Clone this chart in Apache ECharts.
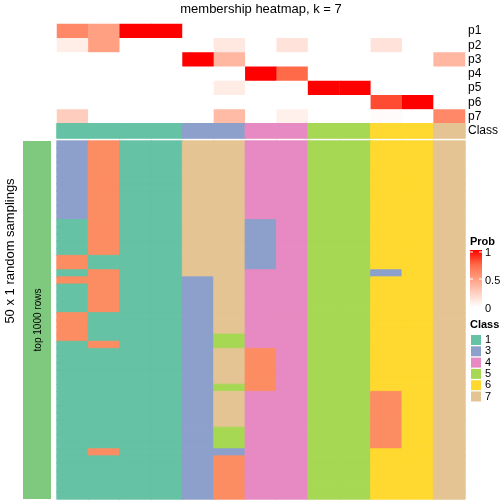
<!DOCTYPE html>
<html><head><meta charset="utf-8">
<script src="https://cdn.jsdelivr.net/npm/echarts@6/dist/echarts.min.js"></script>
<style>html,body{margin:0;padding:0;background:#fff}#c{width:504px;height:504px}</style>
</head><body><div id="c"></div><script>
// ---- data ----
const samples = ['s1','s2','s3','s4','s5','s6','s7','s8','s9','s10','s11','s12','s13'];
const probRowNames = ['p1','p2','p3','p4','p5','p6','p7'];
const p1 = [0.60,0.49,1,1,0,0,0,0,0,0,0,0,0];
const p2 = [0.09,0.49,0,0,0,0.12,0,0.15,0,0,0.15,0,0];
const p3 = [0,0,0,0,1,0.37,0,0,0,0,0,0,0.37];
const p4 = [0,0,0,0,0,0,1,0.74,0,0,0,0,0];
const p5 = [0,0,0,0,0,0.10,0,0,1,1,0,0,0];
const p6 = [0,0,0,0,0,0,0,0,0,0,0.82,1,0];
const p7 = [0.26,0,0,0,0,0.35,0,0.08,0,0,0.02,0,0.60];
const sampleClass = [1,1,1,1,3,3,4,4,5,5,6,6,7];
const legendClasses = ['1','3','4','5','6','7'];
const classColors = {1:'#66C2A5',2:'#FC8D62',3:'#8DA0CB',4:'#E78AC3',5:'#A6D854',6:'#FFD92F',7:'#E5C494'};
// per sample: runs of [class, number of samplings] from top to bottom (50 samplings)
const samplingRuns = [
  [[3,11],[1,5],[2,2],[1,1],[2,1],[1,4],[2,4],[1,22]],
  [[2,16],[1,2],[2,6],[1,4],[2,1],[1,14],[2,1],[1,6]],
  [[1,50]],
  [[1,50]],
  [[7,19],[3,31]],
  [[7,27],[5,2],[7,5],[5,1],[7,5],[5,3],[3,1],[2,6]],
  [[4,11],[3,7],[4,11],[2,6],[4,15]],
  [[4,50]],
  [[5,50]],
  [[5,50]],
  [[6,18],[3,1],[6,16],[2,8],[6,7]],
  [[6,50]],
  [[7,50]]
];
const nSamplings = 50;
const probStops = ['#FFFFFF','#FFCFBF','#FF9E81','#FF6846','#FF0000'];

// ---- build ----
const probs = [p1,p2,p3,p4,p5,p6,p7];
const probData = [];
probs.forEach((row, r) => row.forEach((v, i) => probData.push([i, r, v])));
const classRowData = sampleClass.map((c, i) => ({value:[i, 7, c], itemStyle:{color:classColors[c], borderColor:classColors[c], borderWidth:1}}));
const mainData = [];
samplingRuns.forEach((runs, i) => {
  let r = 0;
  runs.forEach(([c, n]) => {
    for (let k = 0; k < n; k++) { mainData.push({value:[i, r, c], itemStyle:{color:classColors[c], borderColor:classColors[c], borderWidth:0.8}}); r++; }
  });
});
const rowIdx = Array.from({length:nSamplings}, (_, k) => String(k+1));

const FONT = 'Liberation Sans';
const graphics = [
  {type:'text', x:261, y:9, style:{text:'membership heatmap, k = 7', font:'13px "Liberation Sans"', fill:'#000', textAlign:'center', textVerticalAlign:'middle'}},
  {type:'rect', shape:{x:23, y:141, width:28, height:358}, style:{fill:'#7FC97F'}},
  {type:'text', x:38, y:320, rotation:Math.PI/2, style:{text:'top 1000 rows', font:'10px "Liberation Sans"', fill:'#000', textAlign:'center', textVerticalAlign:'middle'}},
  {type:'text', x:10, y:251, rotation:Math.PI/2, style:{text:'50 x 1 random samplings', font:'13px "Liberation Sans"', fill:'#000', textAlign:'center', textVerticalAlign:'middle'}},
  {type:'text', x:470, y:242, style:{text:'Prob', font:'bold 11px "Liberation Sans"', fill:'#000', textVerticalAlign:'middle'}},
  {type:'rect', shape:{x:470, y:250, width:12, height:57}, style:{fill:new echarts.graphic.LinearGradient(0,0,0,1,[
    {offset:0,color:probStops[4]},{offset:0.25,color:probStops[3]},{offset:0.5,color:probStops[2]},{offset:0.75,color:probStops[1]},{offset:1,color:probStops[0]}])}},
  {type:'line', shape:{x1:470,y1:252,x2:473,y2:252}, style:{stroke:'#fff', lineWidth:1}},
  {type:'line', shape:{x1:479,y1:252,x2:482,y2:252}, style:{stroke:'#fff', lineWidth:1}},
  {type:'line', shape:{x1:470,y1:279,x2:473,y2:279}, style:{stroke:'#fff', lineWidth:1}},
  {type:'line', shape:{x1:479,y1:279,x2:482,y2:279}, style:{stroke:'#fff', lineWidth:1}},
  {type:'text', x:485, y:253, style:{text:'1', font:'11px "Liberation Sans"', fill:'#000', textVerticalAlign:'middle'}},
  {type:'text', x:485, y:281, style:{text:'0.5', font:'11px "Liberation Sans"', fill:'#000', textVerticalAlign:'middle'}},
  {type:'text', x:485, y:309, style:{text:'0', font:'11px "Liberation Sans"', fill:'#000', textVerticalAlign:'middle'}},
  {type:'text', x:470, y:325, style:{text:'Class', font:'bold 11px "Liberation Sans"', fill:'#000', textVerticalAlign:'middle'}}
];
legendClasses.forEach((c, k) => {
  const y = 335 + k*11.3;
  graphics.push({type:'rect', shape:{x:471, y:y, width:10, height:10}, style:{fill:classColors[+c]}});
  graphics.push({type:'text', x:485, y:y+5, style:{text:c, font:'11px "Liberation Sans"', fill:'#000', textVerticalAlign:'middle'}});
});

const chart = echarts.init(document.getElementById('c'), null, {renderer:'canvas'});
chart.setOption({
  animation:false,
  backgroundColor:'#fff',
  grid:[
    {left:57, top:24, width:408, height:114},
    {left:57, top:141, width:408, height:358}
  ],
  xAxis:[
    {type:'category', gridIndex:0, data:samples, show:false},
    {type:'category', gridIndex:1, data:samples, show:false}
  ],
  yAxis:[
    {type:'category', gridIndex:0, data:probRowNames.concat(['Class']), inverse:true, position:'right',
     axisLine:{show:false}, axisTick:{show:false}, splitLine:{show:false},
     axisLabel:{interval:0, fontFamily:FONT, fontSize:12, color:'#000', margin:3}},
    {type:'category', gridIndex:1, data:rowIdx, inverse:true, show:false}
  ],
  visualMap:[{type:'continuous', show:false, min:0, max:1, dimension:2, seriesIndex:0, inRange:{color:probStops}}],
  series:[
    {type:'heatmap', xAxisIndex:0, yAxisIndex:0, data:probData, itemStyle:{borderWidth:0}},
    {type:'heatmap', xAxisIndex:0, yAxisIndex:0, data:classRowData},
    {type:'heatmap', xAxisIndex:1, yAxisIndex:1, data:mainData}
  ],
  graphic:graphics
});
</script></body></html>
